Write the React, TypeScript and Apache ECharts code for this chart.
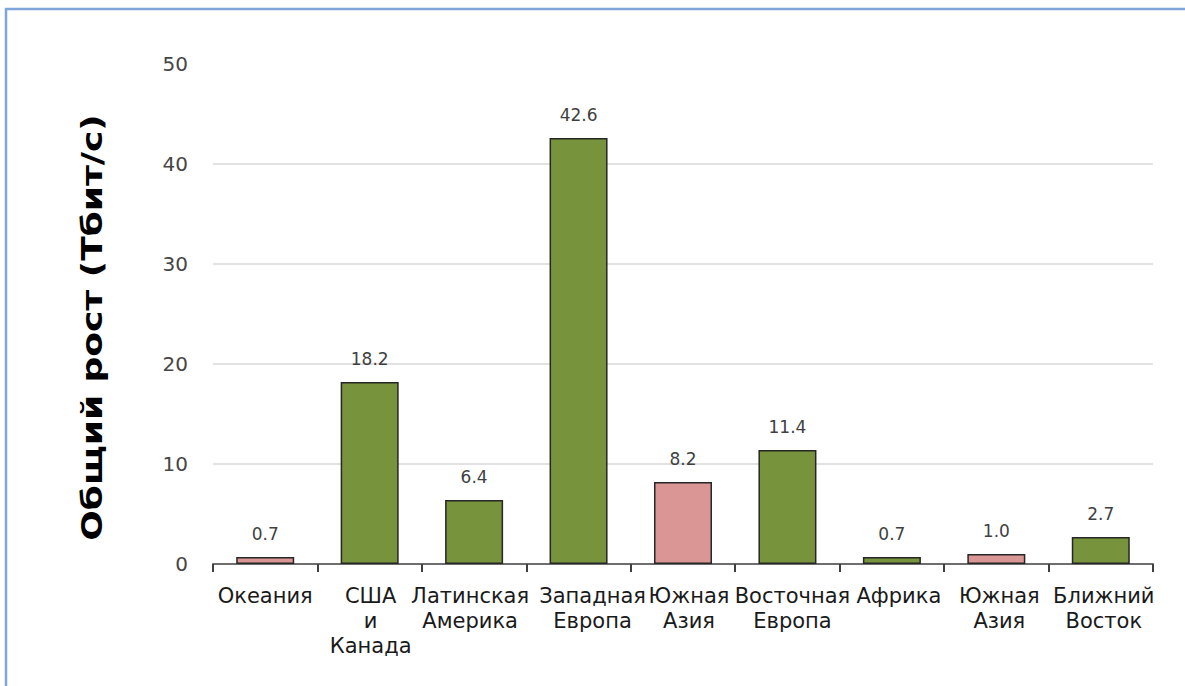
import React, { useEffect, useRef } from "react";
import * as echarts from "echarts";

// Regions and total traffic growth, Tbit/s
const categories = [
  "Океания",
  "США\nи\nКанада",
  "Латинская\nАмерика",
  "Западная\nЕвропа",
  "Южная\nАзия",
  "Восточная\nЕвропа",
  "Африка",
  "Южная\nАзия",
  "Ближний\nВосток",
];
const growth = [0.7, 18.2, 6.4, 42.6, 8.2, 11.4, 0.7, 1.0, 2.7];
// Regions drawn in the pink accent colour
const highlighted = [true, false, false, false, true, false, false, true, false];

const axisTitle = "Общий рост (Тбит/с)";

// Horizontal nudge (px) of each category label so long names don't collide
const labelShift = [0, 1, -4, 14, 6, 5, 7, 3, 3];

const GREEN = "#77933c";
const PINK = "#d99694";
const FONT = '"DejaVu Sans", Verdana, sans-serif';

function labelRich() {
  const rich: Record<string, any> = {};
  labelShift.forEach((d, i) => {
    rich["c" + i] = {
      color: "#1a1a1a",
      fontFamily: FONT,
      fontSize: 21,
      lineHeight: 25,
      padding: d >= 0 ? [0, 0, 0, 2 * d] : [0, -2 * d, 0, 0],
    };
  });
  return rich;
}

export default function App() {
  const ref = useRef<HTMLDivElement>(null);

  useEffect(() => {
    if (!ref.current) return;
    const chart = echarts.init(ref.current, null, { renderer: "svg" });
    chart.setOption({
      animation: false,
      backgroundColor: "#ffffff",
      grid: { left: 213, right: 32, top: 64, bottom: 122, containLabel: false },
      xAxis: {
        type: "category",
        data: categories,
        boundaryGap: true,
        axisLine: { lineStyle: { color: "#6e6e6e", width: 2 } },
        axisTick: { show: true, length: 8, lineStyle: { color: "#404040", width: 2 } },
        axisLabel: {
          interval: 0,
          hideOverlap: false,
          margin: 19,
          color: "#1a1a1a",
          fontFamily: FONT,
          fontSize: 21,
          lineHeight: 25,
          align: "center",
          formatter: (value: string, index: number) => `{c${index}|${value}}`,
          rich: labelRich(),
        },
      },
      yAxis: {
        type: "value",
        min: 0,
        max: 50,
        interval: 10,
        axisLine: { show: false },
        axisTick: { show: false },
        axisLabel: {
          margin: 25,
          color: "#454545",
          fontFamily: FONT,
          fontSize: 20,
        },
        splitLine: {
          lineStyle: {
            color: ["#d9d9d9", "#d9d9d9", "#d9d9d9", "#d9d9d9", "#d9d9d9", "transparent"],
            width: 1.5,
          },
        },
      },
      series: [
        {
          type: "bar",
          barWidth: 58,
          data: growth.map((v, i) => ({
            value: v,
            itemStyle: {
              color: highlighted[i] ? PINK : GREEN,
              borderColor: "#262626",
              borderWidth: 1.5,
            },
          })),
          label: {
            show: true,
            position: "top",
            distance: 15,
            color: "#404040",
            fontFamily: FONT,
            fontSize: 17,
            formatter: (p: any) => Number(p.value).toFixed(1),
          },
        },
      ],
      graphic: [
        {
          type: "rect",
          shape: { x: 6, y: 9, width: 1400, height: 900 },
          style: { fill: "none", stroke: "#7fa5da", lineWidth: 2.5 },
          silent: true,
          z: 10,
        },
        {
          type: "text",
          x: 92,
          y: 327.5,
          rotation: Math.PI / 2,
          scaleX: 1.285,
          style: {
            text: axisTitle,
            fill: "#000000",
            font: `bold 28px ${FONT}`,
            align: "center",
            verticalAlign: "middle",
          },
          silent: true,
        },
      ],
    });
    return () => chart.dispose();
  }, []);

  return (
    <div
      ref={ref}
      style={{ position: "fixed", left: 0, top: 0, width: 1185, height: 686 }}
    />
  );
}
